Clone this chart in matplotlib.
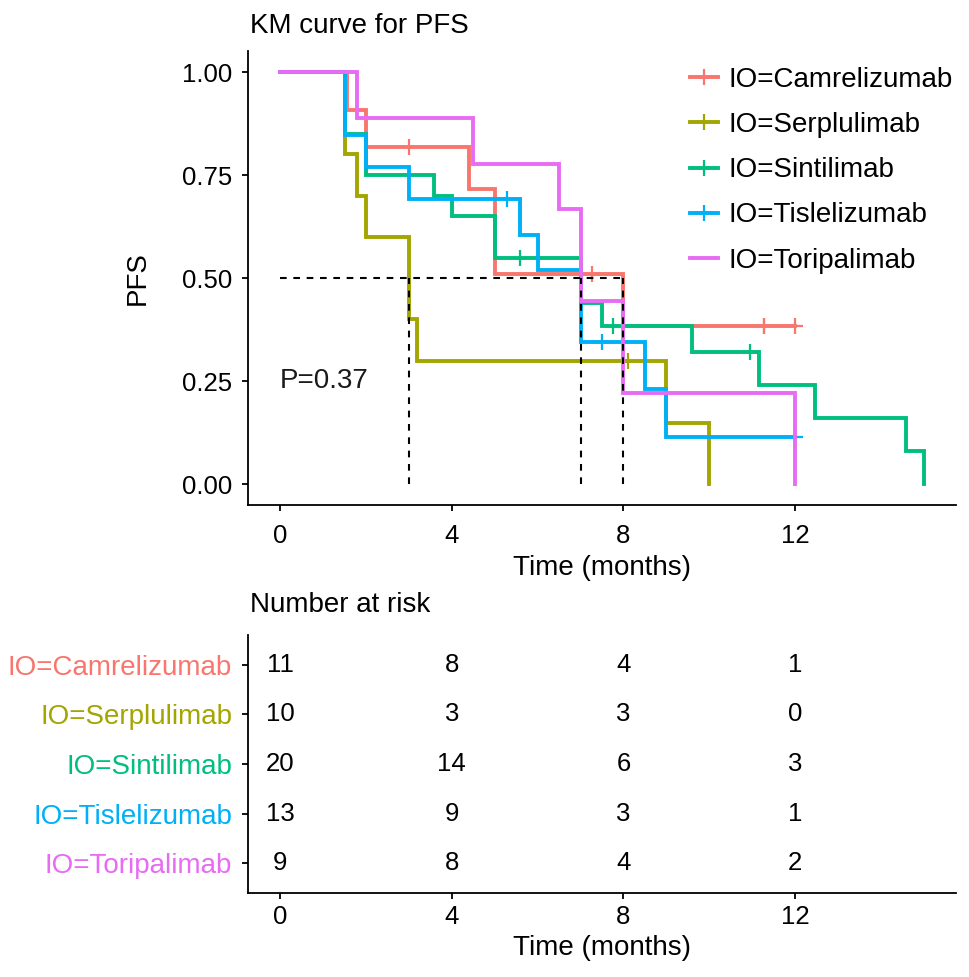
import matplotlib
matplotlib.use("Agg")
import matplotlib.pyplot as plt
from matplotlib.lines import Line2D

plt.rcParams['font.family'] = ['Liberation Sans', 'DejaVu Sans']

# ---------------- data ----------------
groups = ["IO=Camrelizumab", "IO=Serplulimab", "IO=Sintilimab", "IO=Tislelizumab", "IO=Toripalimab"]
colors = ["#F8766D", "#A3A500", "#00BF7D", "#00B0F6", "#E76BF3"]

cam_events = [1.55, 2.0, 4.4, 5.0, 5.0, 8.0]
cam_censor = [3.0, 7.27, 11.28, 11.28, 12.0]
ser_events = [1.5, 1.5, 1.8, 2.0, 3.0, 3.0, 3.2, 9.0, 10.0]
ser_censor = [8.1]
sin_events = [1.5, 1.5, 1.5, 2.0, 2.0, 3.58, 4.0, 5.0, 5.0, 7.0, 7.0, 7.49, 9.6, 11.16, 12.47, 14.58, 15.0]
sin_censor = [5.59, 7.76, 10.96]
tis_events = [1.5, 1.5, 2.0, 3.0, 5.58, 6.0, 7.0, 7.0, 8.5, 9.0]
tis_censor = [5.28, 7.49, 12.0]
tor_events = [1.8, 4.5, 6.5, 7.0, 7.0, 8.0, 8.0, 12.0, 12.0]
tor_censor = []

events = [cam_events, ser_events, sin_events, tis_events, tor_events]
censors = [cam_censor, ser_censor, sin_censor, tis_censor, tor_censor]

risk_times = [0, 4, 8, 12]
risk_cam = [11, 8, 4, 1]
risk_ser = [10, 3, 3, 0]
risk_sin = [20, 14, 6, 3]
risk_tis = [13, 9, 3, 1]
risk_tor = [9, 8, 4, 2]
risk = [risk_cam, risk_ser, risk_sin, risk_tis, risk_tor]

p_text = "P=0.37"
xticks = [0, 4, 8, 12]
yticks = [0.0, 0.25, 0.5, 0.75, 1.0]


def km(ev, ce):
    all_t = list(ev) + list(ce)
    xs, ys = [0.0], [1.0]
    s = 1.0
    for t in sorted(set(ev)):
        n = sum(1 for v in all_t if v >= t)
        d = ev.count(t)
        s *= (1 - d / n)
        xs.append(t)
        ys.append(s)
    tmax = max(all_t)
    if tmax > xs[-1]:
        xs.append(tmax)
        ys.append(s)
    return xs, ys


def s_at(xs, ys, t):
    val = ys[0]
    for x, y in zip(xs, ys):
        if x <= t:
            val = y
    return val


W, H = 969, 977
fig = plt.figure(figsize=(W / 100, H / 100), dpi=100)

def fx(px):
    return px / W

def fy(py):
    return 1 - py / H

ax = fig.add_axes([fx(248), fy(505), fx(956) - fx(248), fy(51.4) - fy(505)])
tx = fig.add_axes([fx(248), fy(893), fx(956) - fx(248), fy(635) - fy(893)])

FS = 20
TFS = 18.5
LW = 2.8

medians = []
handles = []
for i, g in enumerate(groups):
    xs, ys = km(events[i], censors[i])
    ax.step(xs, ys, where='post', color=colors[i], lw=LW, zorder=3 + i * 0.1,
            solid_joinstyle='miter')
    if censors[i]:
        cx = censors[i]
        cy = [s_at(xs, ys, t) for t in cx]
        ax.plot(cx, cy, ls='none', marker='+', ms=11, mew=1.6, color=colors[i], zorder=3 + i * 0.1)
    med = next((x for x, y in zip(xs, ys) if y <= 0.5), None)
    if med is not None:
        medians.append(med)
    handles.append(Line2D([0], [0], color=colors[i], lw=LW,
                          marker='+' if censors[i] else None, ms=11, mew=1.6))

# median lines
dash = (0, (3.2, 3.2))
ax.plot([0, max(medians)], [0.5, 0.5], color='black', lw=1.5, ls=dash, zorder=5)
for m in sorted(set(medians)):
    ax.plot([m, m], [0, 0.5], color='black', lw=1.5, ls=dash, zorder=5)

ax.text(0, 0.25, p_text, ha='left', va='center', fontsize=FS, color='#1a1a1a')

ax.set_xlim(-0.75, 15.75)
ax.set_ylim(-0.05, 1.05)
ax.set_xticks(xticks)
ax.set_xticklabels([str(t) for t in xticks])
ax.set_yticks(yticks)
ax.set_yticklabels([f"{v:.2f}" for v in yticks])
for sp in ['top', 'right']:
    ax.spines[sp].set_visible(False)
for sp in ['left', 'bottom']:
    ax.spines[sp].set_linewidth(1.3)
ax.tick_params(axis='both', length=4, width=1.3, labelsize=TFS, colors='black')
ax.tick_params(axis='x', pad=10)
ax.tick_params(axis='y', pad=7.5)

ax.set_xlabel("Time (months)", fontsize=FS)
ax.xaxis.label.set_va('baseline')
ax.xaxis.set_label_coords(0.5, (505 - 575) / (505 - 51.4))
ax.set_ylabel("PFS", fontsize=FS)
ax.yaxis.label.set_va('center')
ax.yaxis.set_label_coords((138 - 248) / (956 - 248), 0.5)

fig.text(fx(250), fy(33), "KM curve for PFS", ha='left', va='baseline', fontsize=FS)

leg = ax.legend(handles, groups, loc='upper left', bbox_to_anchor=(fx(690), fy(67)),
                bbox_transform=fig.transFigure, frameon=False, fontsize=FS,
                handlelength=1.0, handletextpad=0.4, labelspacing=0.69, borderpad=0,
                borderaxespad=0)

# ---------------- risk table ----------------
for i in range(len(groups)):
    for t, n in zip(risk_times, risk[i]):
        tx.text(t, i + 1, str(n), ha='center', va='center', fontsize=TFS, color='black')

tx.set_xlim(-0.75, 15.75)
tx.set_ylim(5.6, 0.4)
tx.set_xticks(xticks)
tx.set_xticklabels([str(t) for t in xticks])
tx.set_yticks(range(1, len(groups) + 1))
tx.set_yticklabels(groups)
for lab, c in zip(tx.get_yticklabels(), colors):
    lab.set_color(c)
    lab.set_fontsize(FS)
for sp in ['top', 'right']:
    tx.spines[sp].set_visible(False)
for sp in ['left', 'bottom']:
    tx.spines[sp].set_linewidth(1.3)
tx.tick_params(axis='both', length=4, width=1.3, labelsize=TFS)
tx.tick_params(axis='y', pad=7.5, labelsize=FS)
tx.tick_params(axis='x', pad=5)
tx.set_xlabel("Time (months)", fontsize=FS)
tx.xaxis.label.set_va('baseline')
tx.xaxis.set_label_coords(0.5, (893 - 955) / (893 - 635))

fig.text(fx(250), fy(612), "Number at risk", ha='left', va='baseline', fontsize=FS)

fig.savefig("out.png", dpi=100)
